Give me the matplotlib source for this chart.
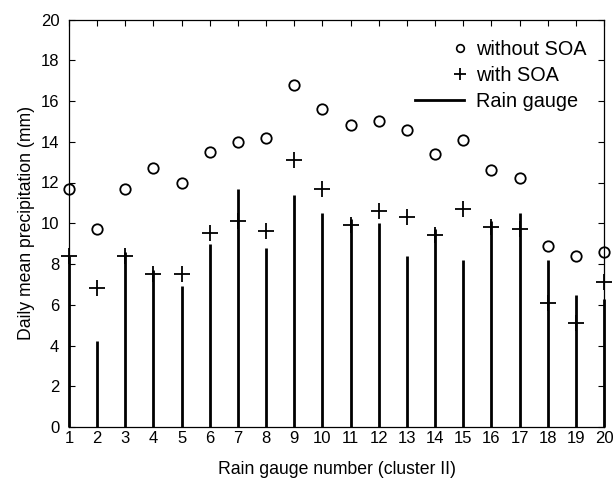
import matplotlib
matplotlib.use("Agg")
import matplotlib.pyplot as plt
import numpy as np
from matplotlib.legend_handler import HandlerLine2D
from matplotlib.lines import Line2D

plt.rcParams['font.family'] = ['Liberation Sans', 'DejaVu Sans']

gauges = list(range(1, 21))
without_soa = [11.7, 9.7, 11.7, 12.7, 12.0, 13.5, 14.0, 14.2, 16.8, 15.6,
               14.8, 15.0, 14.6, 13.4, 14.1, 12.6, 12.2, 8.9, 8.4, 8.6]
with_soa = [8.4, 6.8, 8.4, 7.5, 7.5, 9.5, 10.1, 9.6, 13.1, 11.7,
            9.9, 10.6, 10.3, 9.4, 10.7, 9.8, 9.7, 6.1, 5.1, 7.1]
rain_gauge = [8.4, 4.2, 8.6, 7.7, 6.9, 9.0, 11.7, 8.8, 11.4, 10.5,
              10.2, 10.0, 8.4, 9.7, 8.2, 10.1, 10.5, 8.2, 6.5, 6.3]
yticks = list(range(0, 21, 2))


class EndMarkerHandler(HandlerLine2D):
    def get_xdata(self, legend, xdescent, ydescent, width, height, fontsize):
        m = -xdescent + width - 0.2 * fontsize
        return [m - 1, m + 1], [m]


fig = plt.figure(figsize=(6.15, 4.79), dpi=100)
ax = fig.add_axes([69 / 615, 1 - 427 / 479, (604 - 69) / 615, (427 - 19.5) / 479])

ax.vlines(gauges, 0, rain_gauge, colors='black', linewidth=2.0, clip_on=False, zorder=3)
ax.plot(gauges, without_soa, linestyle='none', marker='o', markersize=7.5,
        markerfacecolor='none', markeredgecolor='black', markeredgewidth=1.3,
        clip_on=False, zorder=5)
ax.plot(gauges, with_soa, linestyle='none', marker='+', markersize=11,
        color='black', markeredgewidth=1.3, clip_on=False, zorder=5)

ax.set_xlim(1, 20)
ax.set_ylim(0, 20)
ax.set_xticks(gauges)
ax.set_yticks(yticks)
ax.tick_params(direction='in', top=True, right=True, length=4, width=0.8,
               labelsize=12)
ax.tick_params(axis='y', pad=7)
ax.tick_params(axis='x', pad=3)
for s in ax.spines.values():
    s.set_linewidth(0.9)

ax.set_xlabel('Rain gauge number (cluster II)', fontsize=12.7, labelpad=11)
ax.set_ylabel('Daily mean precipitation (mm)', fontsize=12.7, labelpad=4)

h_circ = Line2D([], [], linestyle='none', marker='o', markersize=5.5,
                markerfacecolor='none', markeredgecolor='black', markeredgewidth=1.2)
h_plus = Line2D([], [], linestyle='none', marker='+', markersize=8,
                color='black', markeredgewidth=1.3)
h_line = Line2D([], [], color='black', linewidth=2.0)
leg = ax.legend([h_circ, h_plus, h_line], ['without SOA', 'with SOA', 'Rain gauge'],
                loc='upper right', bbox_to_anchor=(0.968, 0.95), frameon=False,
                fontsize=14.3, handlelength=2.5, handletextpad=0.6, labelspacing=0.36,
                borderpad=0, borderaxespad=0, numpoints=1,
                handler_map={h_circ: EndMarkerHandler(), h_plus: EndMarkerHandler()})

fig.savefig('out.png', dpi=100)
